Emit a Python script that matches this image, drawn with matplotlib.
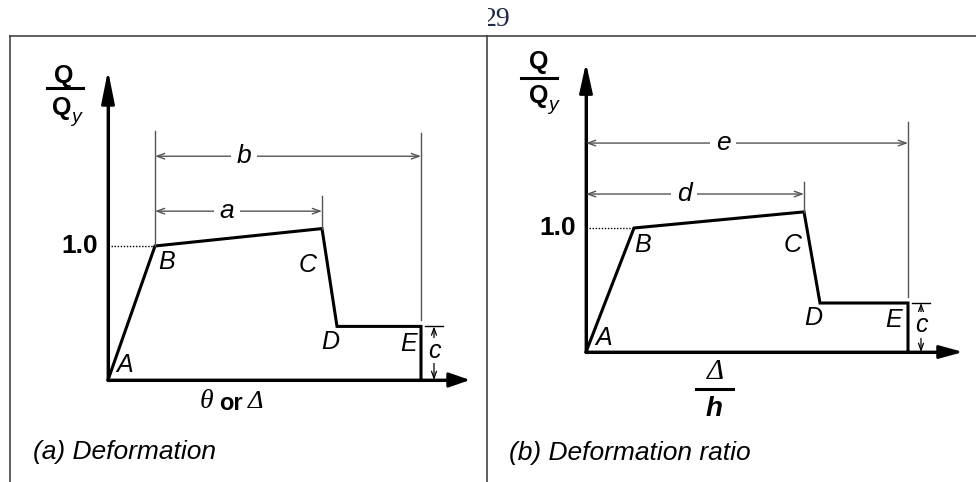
import matplotlib
matplotlib.use('Agg')
import matplotlib.pyplot as plt
from matplotlib.transforms import Bbox

plt.rcParams['font.family'] = ['Liberation Sans Narrow', 'Liberation Sans', 'DejaVu Sans']

# generalized force-deformation relation, points A..E
point_names = ['A', 'B', 'C', 'D', 'E']
deformation = [0.0, 0.47, 2.14, 2.29, 3.13]      # (a) theta or Delta
q_deformation = [0.0, 1.0, 1.13, 0.40, 0.40]
deform_ratio = [0.0, 0.48, 2.18, 2.34, 3.22]     # (b) Delta / h
q_ratio = [0.0, 1.0, 1.13, 0.395, 0.395]

W, H = 976, 482
TOP = 36
fig = plt.figure(figsize=(W / 100, H / 100), dpi=100)


def fx(x):
    return x / W


def fy(y):
    return 1 - y / H


def make_panel(x0, x1, origin, sx, sy):
    ox, oy = origin
    ax = fig.add_axes([fx(x0), 0, (x1 - x0) / W, (H - TOP) / H])
    ax.set_xlim((x0 - ox) / sx, (x1 - ox) / sx)
    ax.set_ylim((oy - H) / sy, (oy - TOP) / sy)
    ax.set_xticks([])
    ax.set_yticks([])
    for side in ['right', 'bottom']:
        ax.spines[side].set_visible(False)
    for side in ['left', 'top']:
        ax.spines[side].set_color('#444444')
        ax.spines[side].set_linewidth(1.2)
    ax.patch.set_alpha(0)
    return ax


def arrow(ax, start, end, style, lw, color):
    ax.annotate('', xy=end, xytext=start,
                arrowprops=dict(arrowstyle=style, lw=lw, color=color,
                                shrinkA=0, shrinkB=0, mutation_scale=10))


def dimension(ax, x0, x1, y, label, label_x):
    # dimension arrow with its label breaking the line
    arrow(ax, (x0, y), (x1, y), '<->,head_length=0.55,head_width=0.2', 1.0, '#555555')
    ax.text(label_x, y, label, ha='center', va='center', fontsize=19, style='italic',
            bbox=dict(facecolor='white', edgecolor='none', pad=4))


def draw_curve(ax, x, q, yaxis_top, xaxis_tip, yhead, xhead, offsets):
    # coordinate axes with filled arrow heads
    ax.plot([0, 0], [0, yaxis_top * 0.9], color='k', lw=2.2)
    ax.plot([0, xaxis_tip * 0.97], [0, 0], color='k', lw=2.2)
    arrow(ax, (0, 0), (0, yaxis_top), yhead, 2.0, 'k')
    arrow(ax, (0, 0), (xaxis_tip, 0), xhead, 2.0, 'k')
    # backbone curve, dropping to zero after E
    ax.plot(x + [x[-1]], q + [0], color='k', lw=2.2, solid_joinstyle='miter')
    # yield level
    ax.plot([0, x[1]], [q[1], q[1]], color='k', lw=1.0, ls=(0, (1, 1.2)))
    for name, xi, qi, off in zip(point_names, x, q, offsets):
        ax.annotate(name, (xi, qi), xytext=off, textcoords='offset pixels',
                    ha='center', va='center', fontsize=18, style='italic')
    # residual strength c
    xe, qe = x[-1], q[-1]
    ax.plot([xe + 0.04, xe + 0.22], [qe, qe], color='k', lw=1.0)
    arrow(ax, (xe + 0.13, 0), (xe + 0.13, qe), '<->,head_length=0.5,head_width=0.18', 0.9, 'k')
    ax.text(xe + 0.13, qe / 2 + 0.02, 'c', ha='center', va='center', fontsize=18,
            style='italic', bbox=dict(facecolor='white', edgecolor='none', pad=0.5))


# ---------- (a) Deformation ----------
axa = make_panel(10, 487, (108, 380), 100, 134)
draw_curve(axa, deformation, q_deformation, 2.31, 3.62,
           '-|>,head_length=2.0,head_width=0.4', '-|>,head_length=1.3,head_width=0.45',
           [(17, 15), (12, -16), (-14, -36), (-7, -16), (-12, -18)])
xb, xc, xe = deformation[1], deformation[2], deformation[4]
axa.plot([xb, xb], [q_deformation[1], 1.86], color='#555555', lw=1.0)
axa.plot([xc, xc], [q_deformation[2], 1.37], color='#555555', lw=1.0)
axa.plot([xe, xe], [0.448, 1.84], color='#555555', lw=1.0)
dimension(axa, xb, xe, 1.67, 'b', 1.36)
dimension(axa, xb, xc, 1.26, 'a', 1.19)
axa.text(-0.10, 1.0, '1.0', ha='right', va='center', fontsize=19, fontweight='bold')

fig.text(fx(64), fy(76), 'Q', ha='center', va='center', fontsize=18, fontweight='bold')
fig.add_artist(plt.Line2D([fx(47), fx(83)], [fy(88), fy(88)], color='k', lw=2.2))
fig.text(fx(62), fy(108), 'Q', ha='center', va='center', fontsize=18, fontweight='bold')
fig.text(fx(76), fy(117), 'y', ha='center', va='center', fontsize=14, style='italic')

fig.text(fx(206), fy(402), 'θ', ha='center', va='center', fontsize=20, style='italic',
         family=['Liberation Serif', 'DejaVu Serif'])
fig.text(fx(231), fy(403), 'or', ha='center', va='center', fontsize=17, fontweight='bold')
fig.text(fx(256), fy(402), 'Δ', ha='center', va='center', fontsize=19, style='italic',
         family=['Liberation Serif', 'DejaVu Serif'])
fig.text(fx(33), fy(452), '(a) Deformation', ha='left', va='center', fontsize=19,
         style='italic')

# ---------- (b) Deformation ratio ----------
axb = make_panel(487, 976, (586, 352), 100, 124)
draw_curve(axb, deform_ratio, q_ratio, 2.33, 3.77,
           '-|>,head_length=1.8,head_width=0.4', '-|>,head_length=1.45,head_width=0.4',
           [(18, 14), (9, -17), (-11, -33), (-7, -15), (-14, -17)])
xc2, xe2 = deform_ratio[2], deform_ratio[4]
axb.plot([xc2, xc2], [q_ratio[2], 1.37], color='#555555', lw=1.0)
axb.plot([xe2, xe2], [0.444, 1.855], color='#555555', lw=1.0)
dimension(axb, 0, xe2, 1.685, 'e', 1.37)
dimension(axb, 0, xc2, 1.274, 'd', 0.98)
axb.text(-0.10, 1.0, '1.0', ha='right', va='center', fontsize=19, fontweight='bold')

fig.text(fx(539), fy(62), 'Q', ha='center', va='center', fontsize=18, fontweight='bold')
fig.add_artist(plt.Line2D([fx(521), fx(557)], [fy(78), fy(78)], color='k', lw=2.2))
fig.text(fx(539), fy(96), 'Q', ha='center', va='center', fontsize=18, fontweight='bold')
fig.text(fx(553), fy(105), 'y', ha='center', va='center', fontsize=14, style='italic')

fig.text(fx(716), fy(372), 'Δ', ha='center', va='center', fontsize=21, style='italic',
         family=['Liberation Serif', 'DejaVu Serif'])
fig.add_artist(plt.Line2D([fx(696), fx(733)], [fy(389), fy(389)], color='k', lw=2.2))
fig.text(fx(714), fy(409), 'h', ha='center', va='center', fontsize=20, style='italic',
         fontweight='bold')
fig.text(fx(509), fy(453), '(b) Deformation ratio', ha='left', va='center', fontsize=19,
         style='italic')

# page number, cut at the panel divider
page = fig.text(fx(497), fy(20), '29', ha='center', va='center', fontsize=20, color='#1f2a44',
                family=['Liberation Serif', 'DejaVu Serif'])
page.set_clip_box(Bbox([[488, 0], [W, H]]))
page.set_clip_on(True)

fig.savefig('out.png', dpi=100)
